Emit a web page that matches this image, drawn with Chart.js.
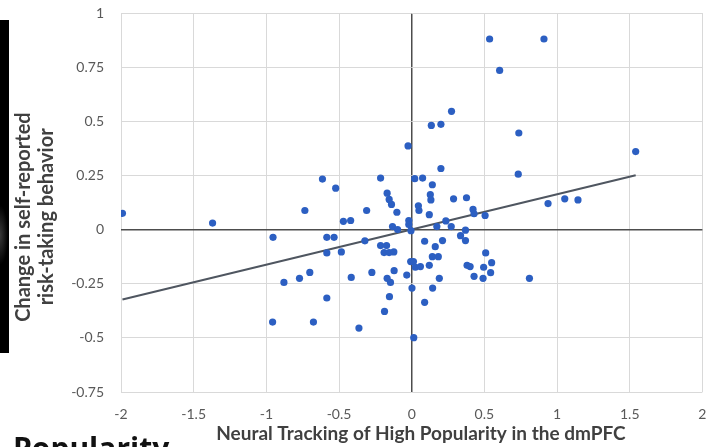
<!DOCTYPE html>
<html>
<head>
<meta charset="utf-8">
<script src="https://cdn.jsdelivr.net/npm/chart.js@4/dist/chart.umd.min.js"></script>
<style>
  html, body { margin: 0; padding: 0; background: #ffffff; }
  #wrap { position: relative; width: 706px; height: 447px; overflow: hidden; background: #ffffff; }
  #c { position: absolute; left: 0; top: 0; }
  #bar { position: absolute; left: 0; top: 20px; width: 9px; height: 333px;
         background: radial-gradient(ellipse 8px 30px at 0px 215px, #3a3a3a, #000 100%); }
  #pop { position: absolute; left: 13px; top: 431px; font-family: "Open Sans", sans-serif;
         font-weight: 700; font-size: 30px; line-height: 34px; color: #111; white-space: nowrap; }
</style>
</head>
<body>
<div id="wrap">
  <canvas id="c" width="706" height="447"></canvas>
  <div id="bar"></div>
  <div id="pop">Popularity</div>
</div>
<script>
// Neural tracking (x) values
const xValues = [
  -1.99, -1.37, -0.735, -0.614, -0.523, -0.47, -0.42, -0.31, -0.214, -0.169,
  -0.155, -0.139, -0.102, -0.132, 0.536, 0.91, 0.605, 0.274, 0.135, 0.201,
  -0.025, 0.737, 1.541, 0.201, 0.733, 0.021, 0.075, 0.142, 0.128, 0.132,
  0.288, 0.377, 0.938, 1.053, 1.144, 0.046, 0.05, 0.121, 0.422, 0.429,
  0.505, -0.02, -0.02, 0.235, 0.272, 0.173, 0.37, -0.005, 0.336, 0.37,
  0.089, 0.212, 0.162, 0.509, 0.142, 0.183, -0.007, 0.012, -0.034, 0.025,
  0.06, 0.121, 0.381, 0.402, 0.55, 0.495, 0.543, 0.429, 0.491, 0.19,
  0.81, 0.002, 0.144, 0.089, 0.014, -0.954, -0.584, -0.534, -0.322, -0.214,
  -0.173, -0.584, -0.484, -0.19, -0.155, -0.123, -0.701, -0.772, -0.879, -0.416,
  -0.274, -0.121, -0.169, -0.146, -0.584, -0.153, -0.187, -0.957, -0.676, -0.363,
  -0.097
];
// Change in self-reported risk-taking (y) values
const yValues = [
  0.075, 0.03, 0.088, 0.233, 0.191, 0.038, 0.042, 0.088, 0.238, 0.168,
  0.139, 0.116, 0.08, 0.014, 0.88, 0.88, 0.735, 0.546, 0.481, 0.486,
  0.386, 0.446, 0.36, 0.282, 0.256, 0.235, 0.238, 0.207, 0.161, 0.137,
  0.142, 0.147, 0.12, 0.142, 0.137, 0.11, 0.088, 0.069, 0.093, 0.073,
  0.065, 0.042, 0.023, 0.04, 0.014, 0.014, -0.003, -0.005, -0.028, -0.051,
  -0.054, -0.051, -0.079, -0.108, -0.125, -0.125, -0.148, -0.148, -0.21, -0.174,
  -0.171, -0.165, -0.165, -0.171, -0.153, -0.174, -0.199, -0.216, -0.225, -0.225,
  -0.225, -0.27, -0.27, -0.336, -0.499, -0.036, -0.036, -0.036, -0.052, -0.074,
  -0.074, -0.108, -0.103, -0.106, -0.106, -0.103, -0.198, -0.225, -0.244, -0.221,
  -0.198, -0.19, -0.225, -0.244, -0.316, -0.31, -0.378, -0.427, -0.427, -0.455,
  0.0
];
// Linear trendline endpoints
const trendX = [-1.99, 1.541];
const trendY = [-0.323, 0.251];

// Tick labels
const xTickLabels = ['-2', '-1.5', '-1', '-0.5', '0', '0.5', '1', '1.5', '2'];
const yTickLabels = ['-0.75', '-0.5', '-0.25', '0', '0.25', '0.5', '0.75', '1'];

// Axis titles
const xTitle = 'Neural Tracking of High Popularity in the dmPFC';
const yTitle = ['Change in self-reported', 'risk-taking behavior'];

const points = xValues.map((x, i) => ({ x: x, y: yValues[i] }));
const trend = trendX.map((x, i) => ({ x: x, y: trendY[i] }));

const labelFor = (labels) => (v) => {
  const hit = labels.find(l => Math.abs(parseFloat(l) - v) < 1e-6);
  return hit !== undefined ? hit : '';
};

const gridColor = (ctx) => (ctx.tick && Math.abs(ctx.tick.value) < 1e-9) ? '#4d4d4d' : '#d9d9d9';
const gridWidth = (ctx) => (ctx.tick && Math.abs(ctx.tick.value) < 1e-9) ? 1.5 : 1;

// Nudge for the axis titles (the original figure's titles are not centred on the plot area)
const NB = '\u00A0';
const xTitleText = NB.repeat(4) + xTitle;
const yTitleText = yTitle.map(t => t + NB.repeat(6));

new Chart(document.getElementById('c'), {
  type: 'scatter',
  data: {
    datasets: [
      {
        label: 'Participants',
        data: points,
        backgroundColor: '#2c5fc2',
        borderColor: '#2c5fc2',
        borderWidth: 0,
        pointRadius: 3.6,
        pointHoverRadius: 3.6,
        order: 1
      },
      {
        type: 'line',
        label: 'Linear trend',
        data: trend,
        borderColor: '#4f5660',
        borderWidth: 2,
        pointRadius: 0,
        fill: false,
        showLine: true,
        order: 2
      }
    ]
  },
  options: {
    responsive: false,
    animation: false,
    events: [],
    layout: { padding: { left: 0, right: 2, top: 13, bottom: 0 } },
    plugins: {
      legend: { display: false },
      tooltip: { enabled: false }
    },
    scales: {
      x: {
        type: 'linear',
        position: 'bottom',
        min: -2, max: 2,
        afterFit: (s) => { s.height = 55; s.paddingLeft = 0; s.paddingRight = 0; },
        grid: { color: gridColor, lineWidth: gridWidth, drawTicks: false },
        border: { display: false },
        ticks: {
          stepSize: 0.5,
          padding: 14,
          color: '#595959',
          font: { family: 'Lato', size: 14 },
          maxRotation: 0,
          autoSkip: false,
          callback: labelFor(xTickLabels)
        },
        title: {
          display: true,
          text: xTitleText,
          color: '#404040',
          font: { family: 'Lato', size: 19, weight: 'bold' },
          padding: { top: 0, bottom: 2 }
        }
      },
      y: {
        type: 'linear',
        min: -0.75, max: 1,
        afterFit: (s) => { s.width = 121; s.paddingTop = 0; s.paddingBottom = 0; },
        grid: { color: gridColor, lineWidth: gridWidth, drawTicks: false },
        border: { display: false },
        ticks: {
          stepSize: 0.25,
          padding: 17,
          color: '#595959',
          font: { family: 'Lato', size: 14 },
          autoSkip: false,
          callback: labelFor(yTickLabels)
        },
        title: {
          display: true,
          text: yTitleText,
          color: '#404040',
          font: { family: 'Lato', size: 20, weight: 'bold', lineHeight: 1.15 },
          padding: { top: 12, bottom: 0 }
        }
      }
    }
  }
});
</script>
</body>
</html>
